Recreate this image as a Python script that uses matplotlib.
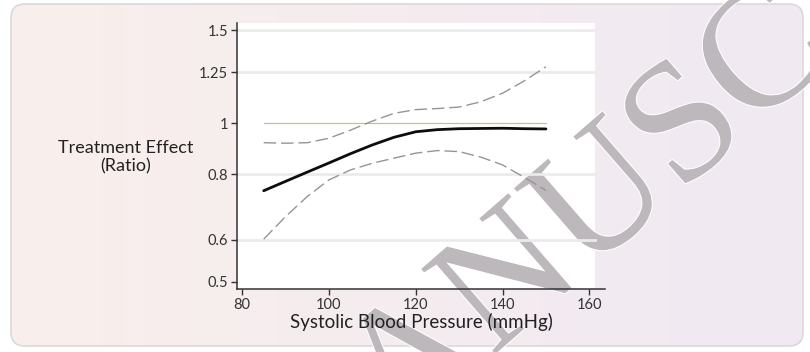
import numpy as np
import matplotlib
matplotlib.use("Agg")
import matplotlib.pyplot as plt
from matplotlib.patches import FancyBboxPatch, Rectangle
import matplotlib.patheffects as pe

# ---- data ----
sbp = [85, 90, 95, 100, 105, 110, 115, 120, 125, 130, 135, 140, 145, 150]
effect = [0.744, 0.775, 0.807, 0.840, 0.875, 0.909, 0.940, 0.963, 0.972, 0.976, 0.977, 0.978, 0.976, 0.975]
upper = [0.918, 0.916, 0.918, 0.936, 0.970, 1.009, 1.044, 1.061, 1.066, 1.073, 1.098, 1.140, 1.203, 1.280]
lower = [0.602, 0.664, 0.725, 0.780, 0.815, 0.839, 0.858, 0.877, 0.887, 0.883, 0.862, 0.833, 0.789, 0.745]
ref_x = [85, 150]
ref_y = [1.0, 1.0]
yticks = [0.5, 0.6, 0.8, 1.0, 1.25, 1.5]
ytick_labels = ["0.5", "0.6", "0.8", "1", "1.25", "1.5"]
xticks = [80, 100, 120, 140, 160]
xtick_labels = ["80", "100", "120", "140", "160"]
grid_levels = [0.6, 0.8, 1.25, 1.5]

W, H = 810, 352
fig = plt.figure(figsize=(W / 100, H / 100), dpi=100)
fig.patch.set_facecolor("white")

# ---- background panel with gradient ----
bg = fig.add_axes([0, 0, 1, 1])
bg.set_xlim(0, W)
bg.set_ylim(H, 0)
bg.axis("off")
grad = np.linspace(0, 1, 256)
c0 = np.array([249, 239, 236]) / 255.0
c1 = np.array([240, 233, 243]) / 255.0
img = c0[None, :] * (1 - grad[:, None]) + c1[None, :] * grad[:, None]
img = np.tile(img[None, :, :], (2, 1, 1))
box = FancyBboxPatch((11, 4), 792, 342, boxstyle="round,pad=0,rounding_size=14",
                     facecolor="none", edgecolor="#dcd8d8", linewidth=1.2, zorder=2)
bg.add_patch(box)
im = bg.imshow(img, extent=[11, 803, 346, 4], aspect="auto", zorder=1)
im.set_clip_path(box)

left, right, top, bottom = 237, 605, 23, 289
white_right = 595
bg.add_patch(Rectangle((left, top), white_right - left, bottom - top,
                       facecolor="white", edgecolor="none", zorder=3))

# ---- watermark (behind the chart's lines and texts) ----
wm = bg.text(674, 144, "MANUSCRIPT", family="Liberation Serif", fontsize=124,
             color="#bcb8bc", ha="center", va="center", rotation=41,
             rotation_mode="anchor", zorder=4, clip_on=False)
wm.set_path_effects([pe.withStroke(linewidth=1.5, foreground="white")])

# ---- main axes ----
ax = fig.add_axes([left / W, 1 - bottom / H, (right - left) / W, (bottom - top) / H])
ax.set_facecolor("none")
ax.set_yscale("log")
ax.set_xlim(78.85, 163.6)
ax.set_ylim(0.484, 1.55)

white_frac = (white_right - left) / (right - left)
for g in grid_levels:
    ax.axhline(g, xmin=0, xmax=white_frac, color="#ebebeb", lw=2.0, zorder=1)

ax.plot(ref_x, ref_y, color="#c2c296", lw=0.9, zorder=2)
ax.plot(sbp, upper, color="#959595", lw=1.0, dashes=(9, 3.5), zorder=3)
ax.plot(sbp, lower, color="#959595", lw=1.0, dashes=(9, 3.5), zorder=3)
ax.plot(sbp, effect, color="#0d0d0d", lw=2.0, zorder=4, solid_capstyle="round")

ax.set_yticks(yticks)
ax.set_yticklabels(ytick_labels)
ax.yaxis.set_minor_locator(matplotlib.ticker.NullLocator())
ax.set_xticks(xticks)
ax.set_xticklabels(xtick_labels)

for s in ["top", "right"]:
    ax.spines[s].set_visible(False)
for s in ["left", "bottom"]:
    ax.spines[s].set_color("#333333")
    ax.spines[s].set_linewidth(1.1)

ax.tick_params(axis="both", direction="out", length=4.5, width=1.0, color="#333333",
               labelsize=10.5, labelcolor="#333333", pad=2)
for lab in ax.get_xticklabels() + ax.get_yticklabels():
    lab.set_fontfamily("Lato")

ax.set_xlabel("Systolic Blood Pressure (mmHg)", family="Lato", fontsize=13.5,
              color="#222222", labelpad=1)
fig.text(126 / W, 1 - 157 / H, "Treatment Effect\n(Ratio)", family="Lato", fontsize=13,
         color="#222222", ha="center", va="center", linespacing=1.15)

fig.savefig("out.png", dpi=100, facecolor="white")
